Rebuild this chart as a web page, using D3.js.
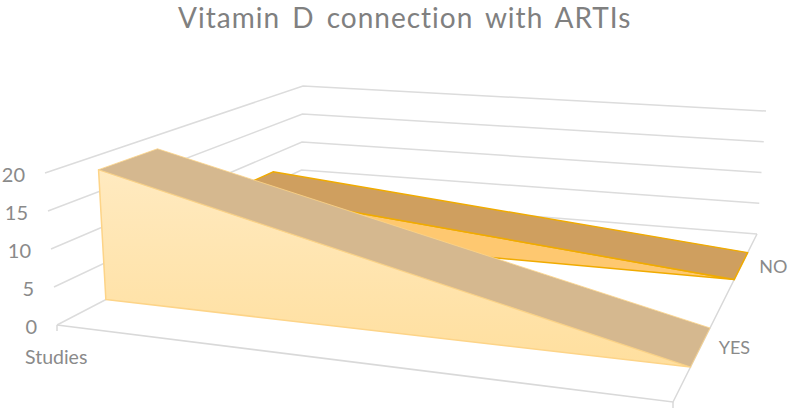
<!DOCTYPE html>
<html>
<head>
<meta charset="utf-8">
<script src="https://cdn.jsdelivr.net/npm/d3@7"></script>
<style>
  html, body { margin: 0; padding: 0; background: #fff; }
  svg { display: block; }
  text { font-family: Lato, "Open Sans", sans-serif; fill: #8a8a8a; }
</style>
</head>
<body>
<div id="chart"></div>
<script>
// chart data
const categories = ["Studies", ""];
const seriesNames = ["YES", "NO"];
const yesValues = [18, 0];
const noValues = [7, 0];
const yTicks = [0, 5, 10, 15, 20];
const titleText = "Vitamin D connection with ARTIs";

const width = 792;
const height = 414;

const svg = d3.select("#chart").append("svg")
    .attr("width", width)
    .attr("height", height);

// scales work in box units, the projection below turns them into pixels
const xScale = d3.scalePoint().domain(categories).range([0, 1]);
const zScale = d3.scaleBand().domain(seriesNames).range([0, 1])
    .paddingInner(0.6).paddingOuter(0.31);
const yScale = d3.scaleLinear().domain([0, 20]).range([0, 1]);

// square to quad homography, corners are (0,0) (1,0) (1,1) (0,1) in (x,z)
function quadMap(p00, p10, p11, p01) {
    const dx1 = p10[0] - p11[0], dx2 = p01[0] - p11[0], sx = p00[0] - p10[0] + p11[0] - p01[0];
    const dy1 = p10[1] - p11[1], dy2 = p01[1] - p11[1], sy = p00[1] - p10[1] + p11[1] - p01[1];
    const det = dx1 * dy2 - dx2 * dy1;
    const g = (sx * dy2 - dx2 * sy) / det;
    const h = (dx1 * sy - sx * dy1) / det;
    const a = p10[0] - p00[0] + g * p10[0], b = p01[0] - p00[0] + h * p01[0], c = p00[0];
    const d = p10[1] - p00[1] + g * p10[1], e = p01[1] - p00[1] + h * p01[1], f = p00[1];
    return (u, v) => {
        const w = g * u + h * v + 1;
        return [(a * u + b * v + c) / w, (d * u + e * v + f) / w];
    };
}

// the plot box as seen in the picture, floor and the plane at the top tick
const floorMap = quadMap([57, 325], [673, 402], [757, 234], [301, 198]);
const topMap = quadMap([45, 173], [682, 237], [766, 111], [303, 86]);

function project(x, z, value) {
    const t = yScale(value);
    const a = floorMap(x, z);
    const b = topMap(x, z);
    return [a[0] + (b[0] - a[0]) * t, a[1] + (b[1] - a[1]) * t];
}

const line = d3.line();

// gridlines run along the left wall and then along the back wall
const gGrid = svg.append("g").attr("class", "grid");
gGrid.selectAll("path")
    .data(yTicks)
    .enter()
    .append("path")
    .attr("d", d => line([project(0, 0, d), project(0, 1, d), project(1, 1, d)]))
    .attr("fill", "none")
    .attr("stroke", "#dcdcdc")
    .attr("stroke-width", 1.5);

// floor edges and the two small ticks below them
gGrid.append("path")
    .attr("d", line([project(0, 0, 0), project(1, 0, 0), project(1, 1, 0)]))
    .attr("fill", "none")
    .attr("stroke", "#d9d9d9")
    .attr("stroke-width", 1.5);
gGrid.selectAll("path.tick")
    .data([0, 1])
    .enter()
    .append("path")
    .attr("class", "tick")
    .attr("d", d => {
        const p = project(d, 0, 0);
        return line([p, [p[0], p[1] + 6]]);
    })
    .attr("stroke", "#d9d9d9")
    .attr("stroke-width", 1.5);

const styles = {
    YES: { top: "#d5b88f", front: "url(#yesFront)", stroke: "#fdd488" },
    NO: { top: "#cf9f5f", front: "#fec870", stroke: "#f0ab00" }
};

const defs = svg.append("defs");
const grad = defs.append("linearGradient")
    .attr("id", "yesFront")
    .attr("x1", 0).attr("y1", 0).attr("x2", 0).attr("y2", 1);
grad.append("stop").attr("offset", "0%").attr("stop-color", "#ffeac0");
grad.append("stop").attr("offset", "100%").attr("stop-color", "#ffdf9e");

function drawRibbon(name, values) {
    const g = svg.append("g").attr("class", "ribbon-" + name);
    const zFront = zScale(name);
    const zBack = zFront + zScale.bandwidth();
    const xs = categories.map(c => xScale(c));

    const frontTop = xs.map((x, i) => project(x, zFront, values[i]));
    const backTop = xs.map((x, i) => project(x, zBack, values[i]));
    const frontBottom = xs.map(x => project(x, zFront, 0));

    // front wall first, the top face sits on it
    g.append("path")
        .attr("d", line([...frontTop, ...frontBottom.slice().reverse()]) + "Z")
        .attr("fill", styles[name].front)
        .attr("stroke", styles[name].stroke)
        .attr("stroke-width", 1.5)
        .attr("stroke-linejoin", "round");
    g.append("path")
        .attr("d", line([...frontTop, ...backTop.slice().reverse()]) + "Z")
        .attr("fill", styles[name].top)
        .attr("stroke", styles[name].stroke)
        .attr("stroke-width", name === "NO" ? 1.5 : 0.8)
        .attr("stroke-linejoin", "round");
}

drawRibbon("NO", noValues);
drawRibbon("YES", yesValues);

// value labels
svg.append("g").selectAll("text")
    .data(yTicks)
    .enter()
    .append("text")
    .attr("x", d => project(0, 0, d)[0] - 20)
    .attr("y", d => project(0, 0, d)[1] + 9)
    .attr("text-anchor", "end")
    .attr("font-size", 20)
    .text(d => d);

// category label under the floor
svg.append("text")
    .attr("x", project(0, 0, 0)[0] - 32)
    .attr("y", project(0, 0, 0)[1] + 39)
    .attr("font-size", 19.5)
    .text(categories[0]);

// series labels sit beside the middle of each band on the right floor edge
const seriesLabels = svg.append("g");
seriesLabels.selectAll("text")
    .data(seriesNames)
    .enter()
    .append("text")
    .attr("x", d => project(1, zScale(d) + zScale.bandwidth() / 2, 0)[0] + 18)
    .attr("y", d => project(1, zScale(d) + zScale.bandwidth() / 2, 0)[1] + 7)
    .attr("font-size", 18)
    .text(d => d);

svg.append("text")
    .attr("x", 178)
    .attr("y", 28)
    .attr("font-size", 28)
    .attr("word-spacing", 4)
    .attr("letter-spacing", 1)
    .style("fill", "#808080")
    .text(titleText);
</script>
</body>
</html>
